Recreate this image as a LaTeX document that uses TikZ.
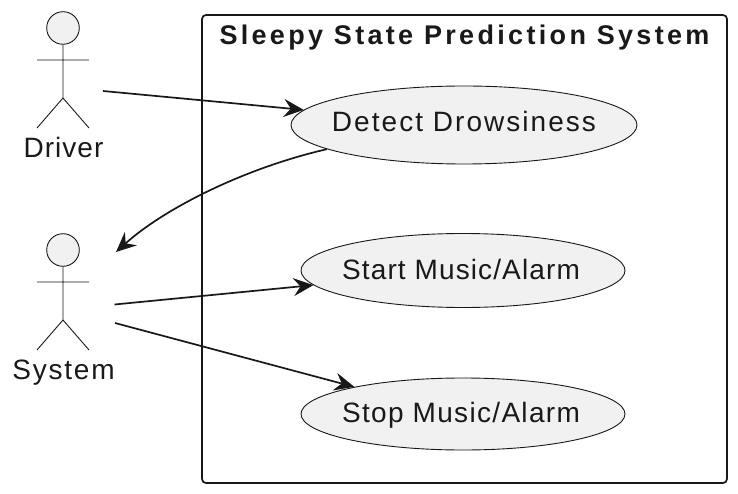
\documentclass[tikz,border=0pt]{standalone}
\usepackage{fontspec}
\setmainfont{Liberation Sans}
\usetikzlibrary{shapes.geometric,arrows.meta}
\definecolor{umlfill}{HTML}{F1F1F1}
\definecolor{umlline}{HTML}{181818}
\newcommand{\lbl}[1]{\fontsize{28}{32}\selectfont\addfontfeatures{LetterSpace=#1}}
\tikzset{
  usecase/.style={ellipse,draw=umlline,fill=umlfill,line width=0.9pt,inner sep=0pt},
  txt/.style={inner sep=0pt,anchor=base,text=black!90},
  limb/.style={draw=umlline,line width=0.9pt},
  head/.style={circle,draw=umlline,fill=umlfill,line width=0.9pt,inner sep=0pt,minimum size=32.6pt},
  flow/.style={draw=umlline,line width=1.7pt,-{Stealth[length=20pt,width=18pt,inset=7pt]}},
  sysbox/.style={draw=umlline,line width=1.7pt,rounded corners=4pt}
}
\begin{document}
\begin{tikzpicture}[x=1pt,y=-1pt]
\useasboundingbox (0,0) rectangle (738,494);
\draw[sysbox] (202,15) rectangle (727,483);
\node[txt,font=\fontsize{27}{30}\selectfont\bfseries\addfontfeatures{LetterSpace=12.3}] (title) at (464.5,45) {Sleepy State Prediction System};
\node[usecase,minimum width=346pt,minimum height=78pt] (detect) at (464,125) {};
\node[usecase,minimum width=324pt,minimum height=74pt] (start) at (463,270.5) {};
\node[usecase,minimum width=324pt,minimum height=72pt] (stop) at (463,414) {};
\node[txt,font=\lbl{7.3}] (detecttext) at (464,131.7) {Detect Drowsiness};
\node[txt,font=\lbl{4}] (starttext) at (461,279) {Start Music/Alarm};
\node[txt,font=\lbl{4.7}] (stoptext) at (461,422.5) {Stop Music/Alarm};
% Driver
\node[head] (dhead) at (63,28) {};
\coordinate (dhip) at (63,98);
\coordinate (dla) at (37,60);
\coordinate (dra) at (89,60);
\coordinate (dll) at (37,128);
\coordinate (drl) at (89,128);
\draw[limb] (dhead.south) -- (dhip) (dla) -- (dra) (dll) -- (dhip) -- (drl);
\node[txt,font=\lbl{3.8}] (driver) at (63.5,158) {Driver};
% System
\node[head] (shead) at (63,250) {};
\coordinate (ship) at (63,320);
\coordinate (sla) at (37,282);
\coordinate (sra) at (89,282);
\coordinate (sll) at (37,350);
\coordinate (srl) at (89,350);
\draw[limb] (shead.south) -- (ship) (sla) -- (sra) (sll) -- (ship) -- (srl);
\node[txt,font=\lbl{6.4}] (system) at (63.5,379.3) {System};
% Connectors
\coordinate (dout) at (103,91);
\coordinate (sin) at (116,252);
\coordinate (sout1) at (114.5,304.5);
\coordinate (sout2) at (115,323);
\draw[flow] (dout) -- (detect);
\draw[flow] (detect.190) .. controls (245,168) and (165,208) .. (sin);
\draw[flow] (sout1) -- (start);
\draw[flow] (sout2) -- (stop.166.5);
\end{tikzpicture}
\end{document}
